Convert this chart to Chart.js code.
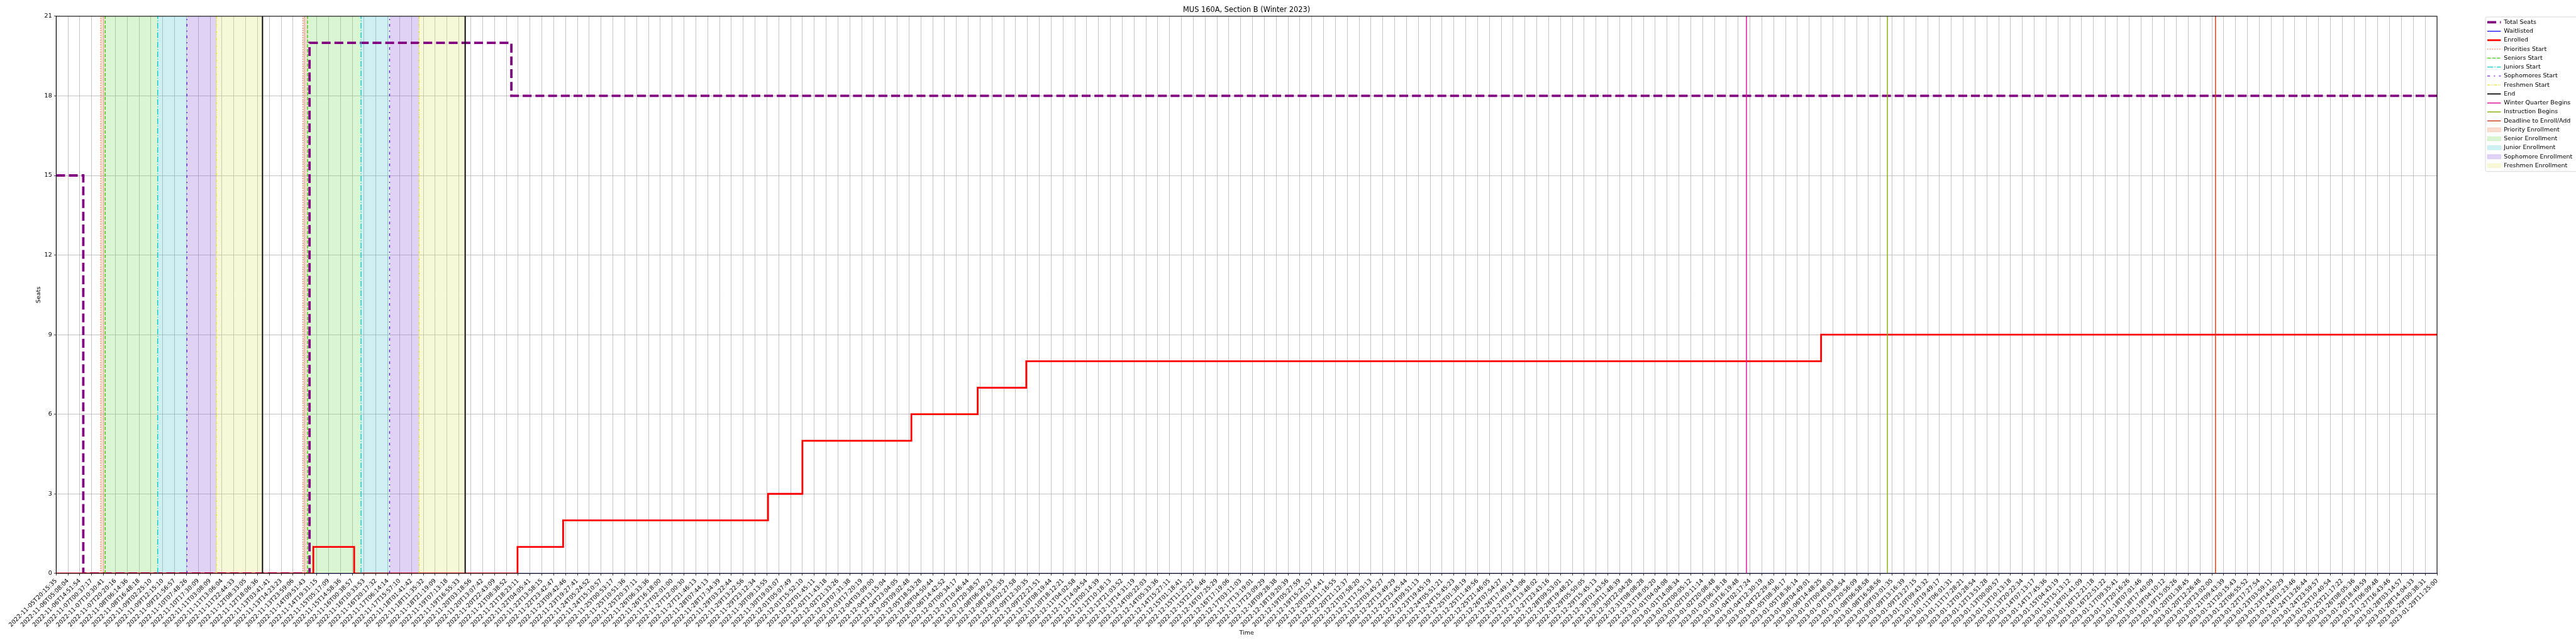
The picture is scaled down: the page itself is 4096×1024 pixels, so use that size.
<!DOCTYPE html>
<html>
<head>
<meta charset="utf-8">
<title>MUS 160A, Section B (Winter 2023)</title>
<script src="https://cdn.jsdelivr.net/npm/chart.js@4/dist/chart.umd.min.js"></script>
<style>
  html, body { margin: 0; padding: 0; background: #fff; }
  #chart { display: block; }
</style>
</head>
<body>
<canvas id="chart" width="4096" height="1024"></canvas>
<script>
// ---- data (x positions are in units of the sampled time ticks below) ----
const tickLabels = [
  '2022-11-05T20:15:35', '2022-11-06T05:08:04', '2022-11-06T14:51:54', '2022-11-07T00:37:17', '2022-11-07T10:30:41',
  '2022-11-07T20:20:16', '2022-11-08T06:14:36', '2022-11-08T16:48:18', '2022-11-09T02:25:10', '2022-11-09T12:15:10',
  '2022-11-09T21:56:57', '2022-11-10T07:48:26', '2022-11-10T17:30:09', '2022-11-11T03:08:09', '2022-11-11T13:06:04',
  '2022-11-11T22:44:33', '2022-11-12T08:33:05', '2022-11-12T18:06:36', '2022-11-13T03:41:41', '2022-11-13T14:23:23',
  '2022-11-13T23:59:06', '2022-11-14T09:51:43', '2022-11-14T19:31:15', '2022-11-15T05:17:09', '2022-11-15T14:58:36',
  '2022-11-16T00:38:57', '2022-11-16T10:33:53', '2022-11-16T20:17:32', '2022-11-17T06:14:14', '2022-11-17T15:57:10',
  '2022-11-18T01:41:42', '2022-11-18T11:35:32', '2022-11-18T21:19:09', '2022-11-19T07:13:18', '2022-11-19T16:55:33',
  '2022-11-20T03:18:56', '2022-11-20T13:07:42', '2022-11-20T22:43:09', '2022-11-21T08:38:52', '2022-11-21T18:23:11',
  '2022-11-22T04:05:41', '2022-11-22T13:58:15', '2022-11-22T23:42:47', '2022-11-23T09:42:46', '2022-11-23T19:27:41',
  '2022-11-24T05:24:52', '2022-11-24T15:10:57', '2022-11-25T00:53:17', '2022-11-25T10:51:36', '2022-11-25T20:37:11',
  '2022-11-26T06:33:36', '2022-11-26T16:18:00', '2022-11-27T02:01:00', '2022-11-27T12:00:30', '2022-11-27T21:46:13',
  '2022-11-28T07:44:13', '2022-11-28T17:34:39', '2022-11-29T03:22:44', '2022-11-29T13:22:56', '2022-11-29T23:12:34',
  '2022-11-30T09:13:55', '2022-11-30T19:03:07', '2022-12-01T05:07:49', '2022-12-01T15:52:10', '2022-12-02T01:45:11',
  '2022-12-02T11:43:18', '2022-12-02T21:33:26', '2022-12-03T07:31:38', '2022-12-03T17:20:19', '2022-12-04T03:09:00',
  '2022-12-04T13:15:04', '2022-12-04T23:04:05', '2022-12-05T09:02:48', '2022-12-05T18:53:28', '2022-12-06T04:50:44',
  '2022-12-06T14:42:52', '2022-12-07T00:34:17', '2022-12-07T10:46:44', '2022-12-07T20:38:57', '2022-12-08T06:39:23',
  '2022-12-08T16:35:35', '2022-12-09T02:27:58', '2022-12-09T12:30:35', '2022-12-09T22:21:51', '2022-12-10T08:19:44',
  '2022-12-10T18:12:21', '2022-12-11T04:02:58', '2022-12-11T14:04:54', '2022-12-12T00:14:39', '2022-12-12T10:18:13',
  '2022-12-12T21:03:52', '2022-12-13T14:31:19', '2022-12-14T00:22:03', '2022-12-14T05:33:36', '2022-12-14T15:27:11',
  '2022-12-15T01:18:41', '2022-12-15T11:23:22', '2022-12-15T21:16:46', '2022-12-16T07:25:29', '2022-12-16T17:19:06',
  '2022-12-17T03:11:03', '2022-12-17T13:19:01', '2022-12-17T23:09:29', '2022-12-18T09:28:38', '2022-12-18T19:20:39',
  '2022-12-19T05:27:59', '2022-12-19T15:21:57', '2022-12-20T01:14:41', '2022-12-20T11:16:55', '2022-12-20T21:12:37',
  '2022-12-21T07:58:20', '2022-12-21T17:53:13', '2022-12-22T03:45:27', '2022-12-22T13:49:29', '2022-12-22T23:45:44',
  '2022-12-23T09:51:13', '2022-12-23T19:45:19', '2022-12-24T05:51:21', '2022-12-24T15:45:23', '2022-12-25T01:38:19',
  '2022-12-25T11:49:56', '2022-12-25T21:46:05', '2022-12-26T07:54:27', '2022-12-26T17:49:14', '2022-12-27T03:43:06',
  '2022-12-27T13:48:02', '2022-12-27T23:43:16', '2022-12-28T09:53:01', '2022-12-28T19:48:21', '2022-12-29T05:50:05',
  '2022-12-29T15:45:13', '2022-12-30T01:43:56', '2022-12-30T11:48:39', '2022-12-30T22:04:28', '2022-12-31T08:08:28',
  '2022-12-31T18:05:20', '2023-01-01T04:04:08', '2023-01-01T14:08:34', '2023-01-02T00:05:12', '2023-01-02T10:11:14',
  '2023-01-02T20:08:48', '2023-01-03T06:18:18', '2023-01-03T16:19:48', '2023-01-04T02:17:24', '2023-01-04T12:30:19',
  '2023-01-04T22:29:40', '2023-01-05T08:36:17', '2023-01-05T18:36:14', '2023-01-06T04:49:01', '2023-01-06T14:48:25',
  '2023-01-07T00:48:03', '2023-01-07T10:58:54', '2023-01-07T20:56:09', '2023-01-08T06:58:58', '2023-01-08T16:58:56',
  '2023-01-09T03:01:35', '2023-01-09T13:16:39', '2023-01-09T23:27:15', '2023-01-10T09:43:32', '2023-01-10T19:49:17',
  '2023-01-11T06:01:31', '2023-01-11T17:28:21', '2023-01-12T03:28:54', '2023-01-12T13:51:28', '2023-01-13T00:00:57',
  '2023-01-13T10:13:18', '2023-01-13T20:22:34', '2023-01-14T07:13:17', '2023-01-14T17:45:36', '2023-01-15T04:43:19',
  '2023-01-15T15:13:12', '2023-01-16T01:41:09', '2023-01-16T12:21:18', '2023-01-16T22:51:22', '2023-01-17T09:35:41',
  '2023-01-17T20:16:26', '2023-01-18T07:01:46', '2023-01-18T17:40:09', '2023-01-19T04:10:12', '2023-01-19T15:05:26',
  '2023-01-20T01:38:45', '2023-01-20T12:26:48', '2023-01-20T23:02:00', '2023-01-21T09:43:39', '2023-01-21T20:15:43',
  '2023-01-22T06:55:52', '2023-01-22T17:27:54', '2023-01-23T03:59:11', '2023-01-23T14:50:29', '2023-01-24T01:23:46',
  '2023-01-24T13:26:44', '2023-01-24T23:59:57', '2023-01-25T10:40:54', '2023-01-25T21:17:22', '2023-01-26T08:05:36',
  '2023-01-26T18:49:59', '2023-01-27T06:09:48', '2023-01-27T16:43:46', '2023-01-28T03:14:57', '2023-01-28T14:04:33',
  '2023-01-29T00:38:31', '2023-01-29T11:25:00'
];

// step series: value holds from its x until the next x
const totalSeatsX = [0, 2.29, 21.39, 38.43, 201];
const totalSeatsY = [15, 0, 20, 18, 18];
const waitlistedX = [0, 201];
const waitlistedY = [0, 0];
const enrolledX = [0, 21.71, 25.16, 38.95, 42.8, 60.1, 63.0, 72.2, 77.8, 81.9, 149.0, 201];
const enrolledY = [0, 1, 0, 1, 2, 3, 5, 6, 7, 8, 9, 9];

// enrollment pass markers, two rounds
const passNames = ['Priorities Start', 'Seniors Start', 'Juniors Start', 'Sophomores Start', 'Freshmen Start', 'End'];
const passRound1 = [3.76, 4.14, 8.57, 11.04, 13.53, 17.42];
const passRound2 = [20.83, 21.22, 25.74, 28.15, 30.64, 34.53];
const periodNames = ['Priority Enrollment', 'Senior Enrollment', 'Junior Enrollment', 'Sophomore Enrollment', 'Freshmen Enrollment'];

const eventNames = ['Winter Quarter Begins', 'Instruction Begins', 'Deadline to Enroll/Add'];
const eventX = [142.7, 154.6, 182.3];

const yMax = 21;

// ---- styles ----
const passColors = ['#ee6a2a', '#3ccc14', '#00ced1', '#6b1fd6', '#e2e22c', '#000000'];
const passDash = [[1.4, 2.4], [5.3, 2.3], [9.2, 2.3, 1.4, 2.3], [4.3, 6.1, 2, 6.1], [4.3, 1.4, 1.4, 1.4, 1.4, 1.4], []];
const passWidth = [1.4, 1.4, 1.4, 1.4, 1.4, 1.9];
const periodColors = ['rgba(227,115,63,0.25)', 'rgba(107,215,75,0.25)', 'rgba(63,195,203,0.25)',
                      'rgba(131,75,215,0.25)', 'rgba(223,227,99,0.25)'];
const eventColors = ['#e01498', '#8aaf1c', '#cc4422'];

const pts = (xs, ys) => xs.map((x, i) => ({ x: x, y: ys[i] }));
const vline = x => [{ x: x, y: 0 }, { x: x, y: yMax }];

const datasets = [];
datasets.push({ label: 'Total Seats', data: pts(totalSeatsX, totalSeatsY), stepped: true,
  borderColor: '#800080', borderWidth: 3.8, borderDash: [14.1, 6.1], order: 12 });
datasets.push({ label: 'Waitlisted', data: pts(waitlistedX, waitlistedY), stepped: true,
  borderColor: '#0000ff', borderWidth: 1.4, order: 11 });
datasets.push({ label: 'Enrolled', data: pts(enrolledX, enrolledY), stepped: true,
  borderColor: '#ff0000', borderWidth: 2.8, order: 10 });

passNames.forEach((name, i) => {
  [passRound1[i], passRound2[i]].forEach(x => {
    datasets.push({ label: name, data: vline(x), borderColor: passColors[i],
      borderWidth: passWidth[i], borderDash: passDash[i], order: 2 });
  });
});
eventNames.forEach((name, i) => {
  datasets.push({ label: name, data: vline(eventX[i]), borderColor: eventColors[i],
    borderWidth: 1.5, order: 2 });
});
periodNames.forEach((name, i) => {
  [[passRound1[i], passRound1[i + 1]], [passRound2[i], passRound2[i + 1]]].forEach(([a, b]) => {
    datasets.push({ label: name, data: [{ x: a, y: yMax }, { x: b, y: yMax }], fill: 'origin',
      backgroundColor: periodColors[i], borderWidth: 0, borderColor: 'rgba(0,0,0,0)', order: 20, isSpan: true });
  });
});
datasets.forEach(d => { d.pointRadius = 0; d.xAxisID = 'x'; d.yAxisID = 'y'; if (!d.fill) d.fill = false; });

// top/right spines and legend frame
const framePlugin = {
  id: 'frame',
  afterDraw(chart) {
    const { ctx, chartArea: a, legend } = chart;
    ctx.save();
    ctx.strokeStyle = '#000';
    ctx.lineWidth = 1;
    ctx.strokeRect(a.left, a.top, a.right - a.left, a.bottom - a.top);
    const lo = legend.options.labels;
    const fs = lo.font.size;
    const n = legend.legendItems.length;
    const x0 = legend.left + lo.padding - 3;
    const c0 = legend.top + lo.padding + fs / 2;
    const cN = c0 + (n - 1) * (fs + lo.padding);
    ctx.strokeStyle = '#d6d6d6';
    ctx.beginPath();
    ctx.roundRect(x0, c0 - 8.4, chart.width - x0 + 6, cN - c0 + 17.8, 2.5);
    ctx.stroke();
    ctx.restore();
  }
};

Chart.defaults.font.family = '"DejaVu Sans", sans-serif';
Chart.defaults.color = '#000';

new Chart(document.getElementById('chart'), {
  type: 'line',
  data: { datasets: datasets },
  plugins: [framePlugin],
  options: {
    responsive: false,
    animation: false,
    devicePixelRatio: 1,
    layout: { padding: 0 },
    scales: {
      x: {
        type: 'linear', min: 0, max: tickLabels.length - 1,
        grid: { color: '#b0b0b0', lineWidth: 0.75, tickLength: 3.3, tickColor: '#000', tickWidth: 0.75 },
        border: { color: '#000', width: 1 },
        ticks: { stepSize: 1, autoSkip: false, minRotation: 45, maxRotation: 45, padding: 3,
                 font: { size: 9.5 }, callback: v => tickLabels[Math.round(v)] },
        title: { display: true, text: 'Time', font: { size: 9.5 }, padding: { top: 2, bottom: 11.3 } },
        afterFit: s => { s.height = 112.2; }
      },
      y: {
        type: 'linear', min: 0, max: yMax, position: 'left',
        grid: { color: '#b0b0b0', lineWidth: 0.75, tickLength: 3.3, tickColor: '#000', tickWidth: 0.75 },
        border: { color: '#000', width: 1 },
        ticks: { stepSize: 3, padding: 3.3, font: { size: 9.5 } },
        title: { display: true, text: 'Seats', font: { size: 9.5 }, padding: { top: 56, bottom: 0 } },
        afterFit: s => { s.width = 89.3; }
      },
      gap: {
        type: 'linear', axis: 'y', position: 'right', display: true,
        grid: { display: false, drawTicks: false }, border: { display: false },
        ticks: { display: false },
        afterFit: s => { s.width = 75.25; }
      }
    },
    plugins: {
      title: {
        display: true, text: 'MUS 160A, Section B (Winter 2023)', fullSize: false,
        font: { size: 11.4, weight: 'normal' }, color: '#000', padding: { top: 9.2, bottom: 3.0 }
      },
      legend: {
        display: true, position: 'right', align: 'start', fullSize: false, maxWidth: 145.75,
        labels: {
          usePointStyle: true, pointStyleWidth: 21.5, boxHeight: 6.8, padding: 4.75,
          font: { size: 9.5 }, color: '#000',
          generateLabels(chart) {
            const seen = new Set();
            const items = [];
            chart.data.datasets.forEach((d, i) => {
              if (seen.has(d.label)) return;
              seen.add(d.label);
              if (d.isSpan) {
                items.push({ text: d.label, datasetIndex: i, pointStyle: 'rect', fillStyle: d.backgroundColor,
                  strokeStyle: d.backgroundColor, lineWidth: 0.7, hidden: false });
              } else {
                items.push({ text: d.label, datasetIndex: i, pointStyle: 'line', fillStyle: d.borderColor,
                  strokeStyle: d.borderColor, lineWidth: d.borderWidth, lineDash: d.borderDash || [], hidden: false });
              }
            });
            return items;
          }
        }
      },
      tooltip: { enabled: false }
    }
  }
});
</script>
</body>
</html>
